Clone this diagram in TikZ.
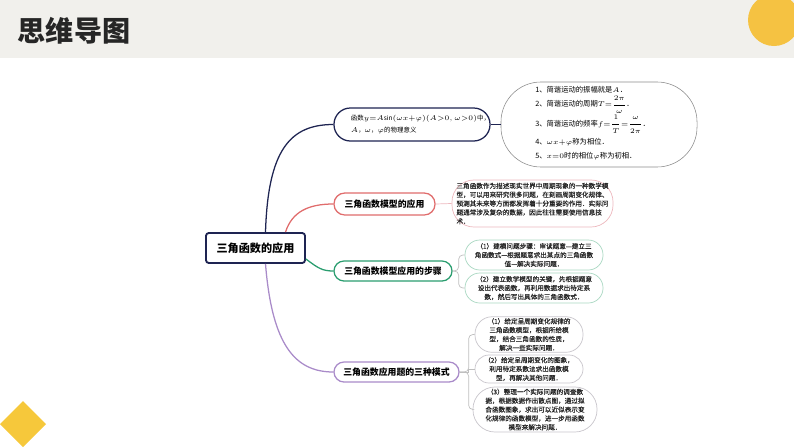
\documentclass[tikz,border=0pt]{standalone}
\usepackage{fontspec}
\usepackage{amsmath}
\setmainfont{Noto Sans CJK SC}
\newfontfamily\notefont{Noto Sans CJK SC}[FakeBold=0.4]
\usetikzlibrary{calc}

\definecolor{navy}{HTML}{1E2452}
\definecolor{redline}{HTML}{E06C6C}
\definecolor{greenline}{HTML}{2A9D6F}
\definecolor{purpleline}{HTML}{A98BC9}
\definecolor{pinkbox}{HTML}{EDB8BE}
\definecolor{greenbox}{HTML}{A9D8C2}
\definecolor{graybox}{HTML}{C9C6CC}
\definecolor{headbg}{HTML}{F1F0EC}
\definecolor{sun}{HTML}{F5C242}

\tikzset{
  branch/.style={line width=0.9pt},
  twig/.style={line width=0.5pt},
  topic/.style={draw, fill=white, line width=0.9pt, inner sep=1pt,
    font=\fontsize{6.3}{7}\selectfont\bfseries},
  note/.style={draw, fill=white, line width=0.5pt, align=center, inner sep=1pt,
    font=\notefont\fontsize{4.7}{6.3}\selectfont, text=black!85},
}

\begin{document}
\begin{tikzpicture}[x=0.025cm, y=-0.025cm]
\useasboundingbox (0,0) rectangle (794,447);

% header
\fill[headbg] (0,0) rectangle (794,58);
\node[font=\fontsize{20}{22}\selectfont\bfseries, text=black!85] (title) at (74,31) {思维导图};
\fill[sun] (774,20) circle [radius=0.65cm];
\fill[sun!90!yellow] (23,401) -- (46,424) -- (23,447) -- (0,424) -- cycle;

% root
\node[topic, draw=navy, line width=1.3pt, rounded corners=2pt, minimum width=2.475cm,
  minimum height=0.75cm, font=\fontsize{7.9}{9}\selectfont\bfseries] (root) at (255.5,248) {三角函数的应用};

% first branch
\node[topic, draw=navy, minimum width=3.9cm, minimum height=0.825cm, rounded corners=0.41cm,
  text width=3.05cm, align=left, font=\fontsize{4.6}{8}\selectfont] (meaning) at (412,124.5)
  {函数$y{=}A\mathit{sin}(\omega x{+}\varphi)(A{>}0,\omega{>}0)$中，\\$A$，$\omega$，$\varphi$的物理意义};
\node[draw=black!45, line width=0.4pt, fill=white, minimum width=4.9cm, minimum height=2.125cm,
  rounded corners=1cm] (facts) at (599,124.5) {};
\node[align=left, font=\fontsize{5.2}{10}\selectfont, inner sep=0pt, anchor=north west] (factstxt) at (535,86)
  {1、简谐运动的振幅就是$A$．\\
   2、简谐运动的周期$T{=}\dfrac{2\pi}{\omega}$．\\
   3、简谐运动的频率$f{=}\dfrac{1}{T}{=}\dfrac{\omega}{2\pi}$．\\[3pt]
   4、$\omega x{+}\varphi$称为相位．\\
   5、$x{=}0$时的相位$\varphi$称为初相．};

% second branch
\node[topic, draw=redline, minimum width=2.525cm, minimum height=0.55cm, rounded corners=0.27cm] (model) at (384.5,204) {三角函数模型的应用};
\node[note, draw=pinkbox, minimum width=4.025cm, minimum height=1.175cm, rounded corners=0.55cm,
  align=left] (modeltxt) at (532.5,203.5)
  {三角函数作为描述现实世界中周期现象的一种数学模\\
   型，可以用来研究很多问题，在刻画周期变化规律、\\
   预测其未来等方面都发挥着十分重要的作用．实际问\\
   题通常涉及复杂的数据，因此往往需要使用信息技\\
   术．};

% third branch
\node[topic, draw=greenline, minimum width=2.95cm, minimum height=0.5cm, rounded corners=0.25cm] (steps) at (393,271) {三角函数模型应用的步骤};
\node[note, draw=greenbox, minimum width=3.45cm, minimum height=0.75cm, rounded corners=0.37cm] (stepa) at (534,255)
  {（1）建模问题步骤：审读题意—建立三\\角函数式—根据题意求出某点的三角函数\\值—解决实际问题．};
\node[note, draw=greenbox, minimum width=3.45cm, minimum height=0.75cm, rounded corners=0.37cm] (stepb) at (534,288)
  {（2）建立数学模型的关键，先根据题意\\设出代表函数，再利用数据求出待定系\\数，然后写出具体的三角函数式．};

% fourth branch
\node[topic, draw=purpleline, minimum width=3.125cm, minimum height=0.5cm, rounded corners=0.25cm] (modes) at (396.5,372) {三角函数应用题的三种模式};
\node[note, draw=graybox, minimum width=2.7cm, minimum height=0.875cm, rounded corners=0.43cm] (modea) at (529,334.5)
  {（1）给定呈周期变化规律的\\三角函数模型，根据所给模\\型，结合三角函数的性质，\\解决一些实际问题．};
\node[note, draw=graybox, minimum width=2.7cm, minimum height=0.7cm, rounded corners=0.35cm] (modeb) at (529,369)
  {（2）给定呈周期变化的图象，\\利用待定系数法求出函数模\\型，再解决其他问题．};
\node[note, draw=graybox, minimum width=3.1cm, minimum height=1.125cm, rounded corners=0.55cm] (modec) at (535,409.5)
  {（3）整理一个实际问题的调查数\\据，根据数据作出散点图，通过拟\\合函数图象，求出可以近似表示变\\化规律的函数模型，进一步用函数\\模型来解决问题．};

% branches
\draw[branch, navy] ($(root.north)+(10,0)$) .. controls (268,150) and (290,124.5) .. (meaning.west);
\draw[branch, redline] ($(root.north)+(30,0)$) .. controls (292,212) and (308,204) .. (model.west);
\draw[branch, greenline] ($(root.east)+(0,11)$) .. controls (318,268) and (322,271) .. (steps.west);
\draw[branch, purpleline] ($(root.south)+(10,0)$) .. controls (272,345) and (295,372) .. (modes.west);

% twigs
\draw[twig, navy] (meaning.east) -- (facts.west);
\draw[twig, pinkbox] (model.east) -- (modeltxt.west);
\draw[twig, black!25, rounded corners=3pt] (steps.east) -- ++(6,0) |- (stepa.west);
\draw[twig, black!25, rounded corners=3pt] (steps.east) -- ++(6,0) |- (stepb.west);
\draw[twig, black!25, rounded corners=3pt] (modes.east) -- ++(9,0) |- (modea.west);
\draw[twig, black!25] (modes.east) -- ++(9,0) |- (modeb.west);
\draw[twig, black!25, rounded corners=3pt] (modes.east) -- ++(9,0) |- (modec.west);
\end{tikzpicture}
\end{document}
